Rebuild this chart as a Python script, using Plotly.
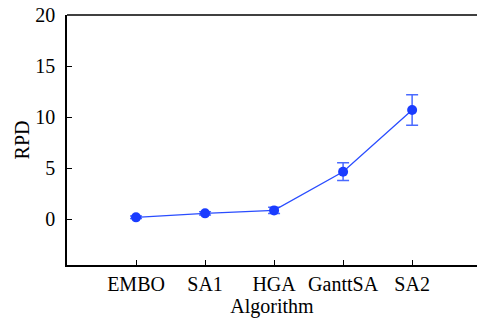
import plotly.graph_objects as go

algorithms = ["EMBO", "SA1", "HGA", "GanttSA", "SA2"]
rpd = [0.17, 0.56, 0.85, 4.64, 10.69]
err = [0.12, 0.15, 0.3, 0.87, 1.5]
positions = [1, 2, 3, 4, 5]

fig = go.Figure()
fig.add_trace(go.Scatter(
    x=positions, y=rpd, mode="lines+markers",
    line=dict(color="#2a4dff", width=1.3),
    marker=dict(color="#1a3cff", size=10),
    error_y=dict(type="data", array=err, visible=True, color="#4a6aff", thickness=1.5, width=6),
    showlegend=False,
))

font = dict(family="Liberation Serif", size=20, color="black")
fig.update_layout(
    width=477, height=322,
    margin=dict(l=67, r=0, t=15, b=57),
    plot_bgcolor="white", paper_bgcolor="white",
    font=font,
    xaxis=dict(
        range=[0, 5.94], tickvals=positions, ticktext=algorithms,
        ticks="inside", ticklen=5, tickcolor="black",
        showline=True, linecolor="black", linewidth=1.5,
        showgrid=False, zeroline=False,
        tickfont=dict(family="Liberation Serif", size=20),
        title=dict(text="Algorithm", standoff=3, font=dict(family="Liberation Serif", size=20)),
    ),
    yaxis=dict(
        range=[-4.5, 20], tickvals=[0, 5, 10, 15, 20],
        ticks="inside", ticklen=5, tickcolor="black",
        showline=True, linecolor="black", linewidth=1.5,
        showgrid=False, zeroline=False, ticklabelstandoff=6,
        tickfont=dict(family="Liberation Serif", size=20),
        title=dict(text="RPD", standoff=0, font=dict(family="Liberation Serif", size=20)),
    ),
    shapes=[dict(type="line", xref="paper", yref="paper", x0=0, x1=1, y0=1, y1=1,
                 line=dict(color="black", width=1.5))],
)
fig.write_html("out.html")
